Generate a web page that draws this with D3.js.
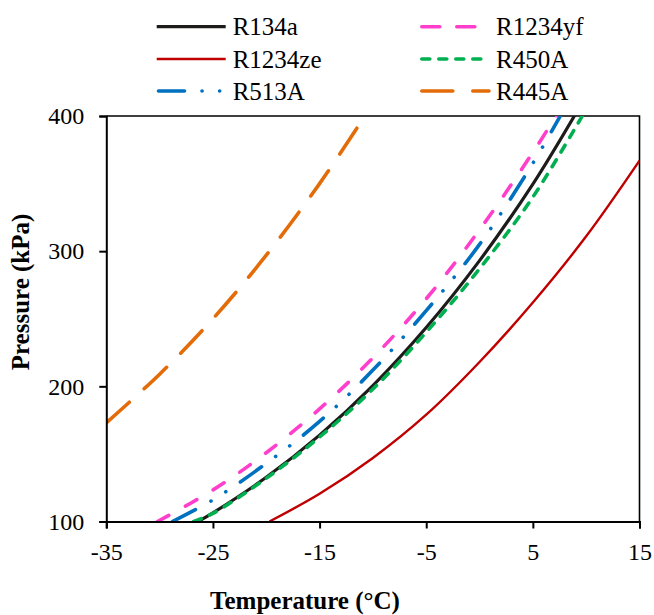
<!DOCTYPE html>
<html>
<head>
<meta charset="utf-8">
<script src="https://cdn.jsdelivr.net/npm/d3@7"></script>
<style>
  body { margin: 0; background: #fff; }
  svg, svg text { font-family: "Liberation Serif", "Times New Roman", Times, serif; }
</style>
</head>
<body>
<div id="chart"></div>
<script>
// saturation pressure (kPa) vs temperature (°C)
const r134a   = [[-26.4,100],[-25,106.4],[-20,132.7],[-15,163.9],[-10,200.6],[-5,243.5],[0,293.0],[5,349.6],[9,401.5]];
const r1234yf = [[-30.2,100],[-25,123.3],[-20,150.9],[-15,183.3],[-10,221.1],[-5,264.8],[0,315.8],[5,373.1],[7.5,404]];
const r1234ze = [[-19.7,100],[-15,120.5],[-10,147],[-5,179],[0,218],[5,262],[10,311],[15,367]];
const r450a   = [[-26.8,100],[-25,106],[-20,132],[-15,162.5],[-10,198],[-5,240],[0,287],[5,340],[10,405]];
const r513a   = [[-28.8,100],[-25,116],[-20,143],[-15,174],[-10,212],[-5,256],[0,305],[5,365],[8,406]];
const r445a   = [[-35,173],[-30,209],[-25,250],[-20,297],[-15,350],[-11.5,391]];

const xTicks = [-35, -25, -15, -5, 5, 15];
const yTicks = [100, 200, 300, 400];

const series = [
  {name: "R134a",   data: r134a,   color: "#1e1c1a", width: 3.2, dash: null,                        col: 0, row: 0},
  {name: "R1234yf", data: r1234yf, color: "#ff3fcc", width: 3.6, dash: "13,19", legDash: "18,17",  col: 1, row: 0},
  {name: "R1234ze", data: r1234ze, color: "#c00000", width: 2.4, dash: null,                        col: 0, row: 1},
  {name: "R450A",   data: r450a,   color: "#00b050", width: 3.6, dash: "8,9",                       col: 1, row: 1},
  {name: "R513A",   data: r513a,   color: "#0070c0", width: 3.6, dash: "26,17.5,0.1,17.5,0.1,17.5", col: 0, row: 2},
  {name: "R445A",   data: r445a,   color: "#e36c09", width: 3.6, dash: "31,20",                     col: 1, row: 2}
];

const FONT = "'Liberation Serif', 'Times New Roman', Times, serif";

const W = 654, H = 615;
const margin = {top: 116, right: 14.5, bottom: 93.5, left: 106.3};
const innerW = W - margin.left - margin.right;
const innerH = H - margin.top - margin.bottom;

const svg = d3.select("#chart").append("svg").attr("width", W).attr("height", H)
  .attr("font-family", FONT);
const g = svg.append("g").attr("transform", `translate(${margin.left},${margin.top})`);

const x = d3.scaleLinear().domain([-35, 15]).range([0, innerW]);
const y = d3.scaleLinear().domain([100, 400]).range([innerH, 0]);

svg.append("defs").append("clipPath").attr("id", "plot")
  .append("rect").attr("width", innerW).attr("height", innerH);

// plot frame (top and right)
g.append("path")
  .attr("d", `M0,0H${innerW}V${innerH}`)
  .attr("fill", "none").attr("stroke", "#000").attr("stroke-width", 1.6);

const line = d3.line()
  .x(d => x(d[0]))
  .y(d => y(d[1]))
  .curve(d3.curveCatmullRom.alpha(0.5));

const lines = g.append("g").attr("clip-path", "url(#plot)");
series.forEach(s => {
  lines.append("path")
    .attr("d", line(s.data))
    .attr("fill", "none")
    .attr("stroke", s.color)
    .attr("stroke-width", s.width)
    .attr("stroke-linecap", s.dash ? "round" : "butt")
    .attr("stroke-dasharray", s.dash);
});

// axes
const xAxis = g.append("g").attr("transform", `translate(0,${innerH})`)
  .call(d3.axisBottom(x).tickValues(xTicks).tickSize(7).tickPadding(14).tickFormat(d3.format("d")));
const yAxis = g.append("g")
  .call(d3.axisLeft(y).tickValues(yTicks).tickSize(7).tickPadding(15));

[xAxis, yAxis].forEach(a => {
  a.attr("font-family", FONT).attr("font-size", 24);
  a.select(".domain").attr("stroke", "#000").attr("stroke-width", 2);
  a.selectAll(".tick line").attr("stroke", "#000").attr("stroke-width", 2);
  a.selectAll("text").attr("fill", "#000");
});
xAxis.selectAll("text").text(d => d < 0 ? "-" + Math.abs(d) : d);

svg.append("text")
  .attr("x", 305).attr("y", 600)
  .attr("text-anchor", "middle").attr("dominant-baseline", "central")
  .attr("font-size", 25).attr("font-weight", "bold")
  .text("Temperature (°C)");

svg.append("text")
  .attr("transform", "translate(20,292) rotate(-90)")
  .attr("text-anchor", "middle").attr("dominant-baseline", "central")
  .attr("font-size", 25).attr("font-weight", "bold")
  .text("Pressure (kPa)");

// legend
const legX = [156.7, 420], legY = [26.7, 59, 91];
const leg = svg.append("g");
series.forEach(s => {
  const lx = legX[s.col], ly = legY[s.row];
  leg.append("line")
    .attr("x1", lx + (s.dash ? 1.8 : 0)).attr("x2", lx + 69)
    .attr("y1", ly).attr("y2", ly)
    .attr("stroke", s.color)
    .attr("stroke-width", s.width)
    .attr("stroke-linecap", s.dash ? "round" : "butt")
    .attr("stroke-dasharray", s.legDash || s.dash);
  leg.append("text")
    .attr("x", lx + 76).attr("y", ly)
    .attr("dominant-baseline", "central")
    .attr("font-size", 25)
    .text(s.name);
});
</script>
</body>
</html>
